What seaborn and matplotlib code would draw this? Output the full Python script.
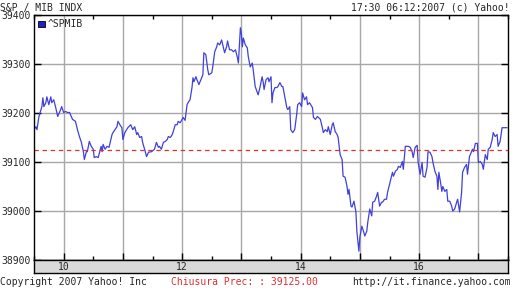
import numpy as np
import pandas as pd
import matplotlib
matplotlib.use("Agg")
import matplotlib.pyplot as plt
import seaborn as sns
from matplotlib.patches import Patch

# minutes after 09:30
minutes = [0, 2, 3, 5, 8, 9, 10, 12, 13, 15, 17, 18, 20, 22, 24, 27, 28, 30, 32, 34,
           36, 39, 42, 44, 46, 48, 50, 51, 53, 54, 56, 58, 60, 61, 63, 65, 68, 69, 70, 72,
           74, 76, 79, 80, 82, 84, 85, 87, 89, 90, 92, 95, 98, 100, 102, 104, 105, 107, 109, 110,
           112, 114, 116, 119, 122, 124, 126, 127, 129, 131, 133, 135, 136, 138, 140, 141, 143, 145, 146, 148,
           150, 151, 153, 155, 156, 158, 160, 161, 162, 164, 165, 167, 169, 171, 172, 174, 176, 177, 180, 181,
           183, 185, 186, 188, 190, 193, 195, 196, 198, 200, 202, 204, 206, 207, 209, 210, 211, 212, 214, 216,
           217, 219, 221, 222, 224, 226, 227, 229, 231, 232, 233, 235, 237, 238, 240, 241, 242, 244, 246, 247,
           249, 251, 252, 254, 256, 257, 259, 260, 262, 264, 266, 267, 269, 271, 272, 274, 276, 277, 279, 282,
           283, 285, 287, 290, 292, 293, 295, 297, 298, 300, 302, 303, 305, 307, 308, 310, 312, 313, 315, 317,
           318, 319, 321, 322, 324, 326, 327, 329, 330, 332, 333, 335, 337, 338, 340, 342, 343, 345, 347, 348,
           350, 352, 353, 355, 357, 358, 360, 363, 364, 366, 368, 369, 371, 373, 374, 376, 378, 379, 381, 383,
           384, 386, 388, 389, 391, 393, 394, 396, 398, 399, 401, 403, 404, 406, 408, 409, 410, 412, 413, 414,
           416, 418, 419, 421, 423, 424, 426, 428, 429, 431, 433, 434, 436, 438, 439, 441, 444, 445, 447, 449,
           450, 452, 454, 455, 457, 459, 460, 462, 464, 465, 467, 469, 470, 472, 474, 477, 479]

values = [39166, 39172, 39166, 39193, 39213, 39231, 39213, 39221, 39233, 39217, 39233, 39221, 39227, 39211, 39193, 39207, 39213, 39201, 39203, 39201,
          39201, 39187, 39183, 39166, 39152, 39140, 39121, 39105, 39121, 39121, 39142, 39132, 39126, 39109, 39111, 39109, 39132, 39121, 39136, 39126,
          39132, 39130, 39156, 39160, 39166, 39172, 39183, 39176, 39170, 39146, 39160, 39170, 39176, 39166, 39172, 39156, 39160, 39150, 39152, 39140,
          39126, 39111, 39120, 39121, 39126, 39140, 39130, 39132, 39126, 39140, 39142, 39146, 39152, 39150, 39156, 39162, 39176, 39176, 39183, 39180,
          39187, 39191, 39185, 39217, 39221, 39227, 39252, 39272, 39264, 39274, 39268, 39258, 39268, 39278, 39323, 39319, 39288, 39278, 39282, 39294,
          39325, 39335, 39343, 39339, 39349, 39323, 39335, 39347, 39329, 39329, 39325, 39329, 39313, 39302, 39374, 39363, 39335, 39353, 39339, 39333,
          39315, 39294, 39302, 39288, 39254, 39243, 39237, 39254, 39274, 39264, 39248, 39268, 39272, 39264, 39274, 39221, 39241, 39252, 39252, 39254,
          39262, 39254, 39254, 39233, 39211, 39207, 39213, 39166, 39160, 39166, 39197, 39217, 39221, 39213, 39241, 39227, 39233, 39217, 39221, 39211,
          39191, 39187, 39193, 39187, 39170, 39160, 39166, 39162, 39172, 39156, 39176, 39180, 39162, 39156, 39150, 39115, 39105, 39071, 39069, 39050,
          39034, 39044, 39010, 39008, 39020, 38998, 38957, 38918, 38947, 38969, 38963, 38949, 38959, 38977, 39004, 38990, 39018, 39020, 39031, 39038,
          39010, 39018, 39018, 39024, 39024, 39038, 39054, 39079, 39071, 39081, 39085, 39091, 39089, 39101, 39085, 39132, 39132, 39132, 39130, 39120,
          39109, 39130, 39134, 39099, 39075, 39099, 39071, 39069, 39089, 39121, 39120, 39111, 39099, 39081, 39071, 39044, 39079, 39054, 39040, 39050,
          39040, 39044, 39020, 39020, 39010, 39000, 39004, 39018, 39024, 38998, 39038, 39079, 39089, 39095, 39075, 39111, 39126, 39121, 39138, 39138,
          39099, 39101, 39095, 39085, 39115, 39105, 39126, 39130, 39146, 39160, 39152, 39156, 39132, 39142, 39170, 39170, 39170]

prev_close = 39125
y_ticks = [38900, 39000, 39100, 39200, 39300, 39400]
x_tick_hours = [10, 12, 14, 16]
series_name = "^SPMIB"

sns.set_theme(style="white")
plt.rcParams["font.family"] = ["DejaVu Sans Mono"]
FS = 7.0

W, H = 512, 288
fig = plt.figure(figsize=(W / 100, H / 100), dpi=100, facecolor="white")
L, R, T, B = 34, 508, 15, 260
ax = fig.add_axes([L / W, 1 - B / H, (R - L) / W, (B - T) / H])
bax = fig.add_axes([L / W, 1 - 273 / H, (R - L) / W, (273 - B) / H])

df = pd.DataFrame({"hour": 9.5 + np.array(minutes) / 60.0, "value": values})
sns.lineplot(data=df, x="hour", y="value", ax=ax, color="#4040dc", lw=0.9, legend=False)
ax.axhline(prev_close, color="#dd3030", ls=(0, (3.5, 3)), lw=0.9)

ax.set_xlim(9.5, 17.5)
ax.set_ylim(38900, 39400)
ax.set_xlabel("")
ax.set_ylabel("")
ax.set_xticks(range(10, 18))
ax.set_xticks(np.arange(9.5, 17.6, 1.0), minor=True)
ax.set_yticks(y_ticks)
ax.set_yticklabels([str(v) for v in y_ticks], fontsize=FS)
ax.grid(True, which="major", color="#a8a8a8", lw=1.0)
ax.tick_params(axis="x", which="major", direction="in", length=5, width=1, color="black",
               bottom=True, top=False, labelbottom=False)
ax.tick_params(axis="x", which="minor", direction="in", length=3, width=1, color="black",
               bottom=True, top=True)
ax.tick_params(axis="y", which="major", direction="in", length=5, width=1, color="black",
               left=True, right=True, pad=2.5, labelsize=FS)
for s in ax.spines.values():
    s.set_color("black")
    s.set_linewidth(1.0)

leg = ax.legend(handles=[Patch(facecolor="#2020c8", edgecolor="black", lw=0.6, label=series_name)],
                loc="upper left", frameon=False, fontsize=FS, handlelength=0.7, handleheight=0.7,
                handletextpad=0.3, borderaxespad=0.25, borderpad=0.2)

bax.set_facecolor("#d9d9d9")
bax.set_xlim(9.5, 17.5)
bax.set_ylim(0, 1)
bax.set_yticks([])
bax.set_xticks(x_tick_hours)
bax.set_xticklabels([str(h) for h in x_tick_hours], fontsize=FS)
bax.tick_params(axis="x", length=0, pad=-8.0)
for s in bax.spines.values():
    s.set_color("black")
    s.set_linewidth(1.0)

fig.text(0, 1 - 7.5 / H, "S&P / MIB INDX", ha="left", va="center", fontsize=FS)
fig.text(510 / W, 1 - 7.5 / H, "17:30 06:12:2007 (c) Yahoo!", ha="right", va="center", fontsize=FS)
fig.text(0, 1 - 282 / H, "Copyright 2007 Yahoo! Inc", ha="left", va="center", fontsize=FS)
fig.text(171 / W, 1 - 282 / H, "Chiusura Prec: : 39125.00", ha="left", va="center",
         fontsize=FS, color="#dd3030")
fig.text(511 / W, 1 - 282 / H, "http://it.finance.yahoo.com", ha="right", va="center", fontsize=FS)

fig.savefig("out.png", dpi=100, facecolor="white")
